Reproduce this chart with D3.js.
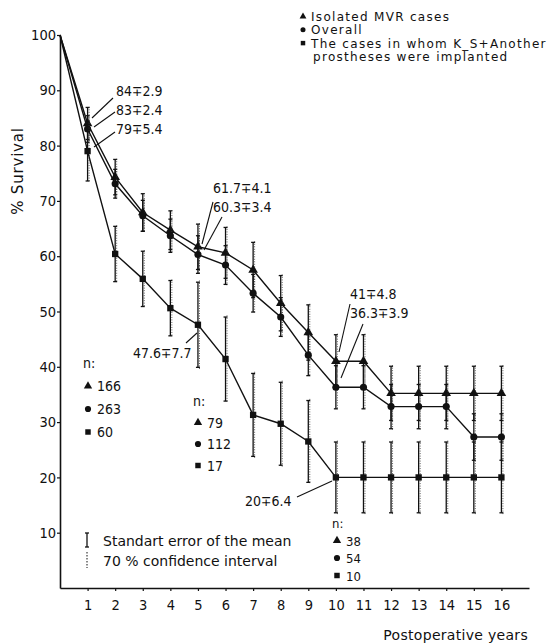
<!DOCTYPE html>
<html>
<head>
<meta charset="utf-8">
<script src="https://cdn.jsdelivr.net/npm/d3@7/dist/d3.min.js"></script>
<style>
  body { margin: 0; background: #fff; }
  svg text { font-family: "DejaVu Sans Condensed", "Liberation Sans Narrow", "Roboto Condensed", sans-serif; fill: #111; }
  svg text.wide { font-family: "DejaVu Sans", "Liberation Sans", sans-serif; }
</style>
</head>
<body>
<svg width="557" height="644"></svg>
<script>
// survival data
var years = [0, 1, 2, 3, 4, 5, 6, 7, 8, 9, 10, 11, 12, 13, 14, 15, 16];
var isolated = [100, 84, 74.3, 67.9, 64.7, 61.7, 60.6, 57.5, 51.5, 46.2, 41, 41, 35.2, 35.2, 35.2, 35.2, 35.2];
var overall = [100, 83, 73.1, 67.3, 63.7, 60.3, 58.4, 53.3, 49, 42.1, 36.3, 36.3, 32.8, 32.8, 32.8, 27.3, 27.3];
var ks = [100, 79, 60.4, 55.9, 50.6, 47.6, 41.4, 31.3, 29.7, 26.5, 20, 20, 20, 20, 20, 20, 20];
var isolatedSE = [0, 2.9, 3.2, 3.4, 3.5, 4.1, 4.6, 5.0, 5.0, 5.0, 4.8, 4.8, 4.9, 4.9, 4.9, 4.9, 4.9];
var overallSE = [0, 2.4, 2.6, 2.8, 3.0, 3.4, 3.5, 3.4, 3.5, 3.7, 3.9, 3.9, 4.0, 4.0, 4.0, 4.2, 4.2];
var ksSE = [0, 5.4, 5.0, 5.0, 5.0, 7.7, 7.6, 7.5, 7.5, 7.4, 6.4, 6.4, 6.4, 6.4, 6.4, 6.4, 6.4];
var xTicks = [1, 2, 3, 4, 5, 6, 7, 8, 9, 10, 11, 12, 13, 14, 15, 16];
var yTicks = [10, 20, 30, 40, 50, 60, 70, 80, 90, 100];
var legendNames = ["Isolated  MVR cases", "Overall", "The cases in whom K_S+Another", "prostheses  were  implanted"];

var svg = d3.select("svg");

var x = d3.scaleLinear().domain([0, 17]).range([60, 529]);
var y = d3.scaleLinear().domain([0, 100]).range([588, 35]);

// axes
var xAxis = svg.append("g")
  .attr("transform", "translate(0,588)")
  .call(d3.axisBottom(x).tickValues(xTicks).tickSize(3).tickSizeOuter(0).tickPadding(9));
var yAxis = svg.append("g")
  .attr("transform", "translate(60,0)")
  .call(d3.axisLeft(y).tickValues(yTicks).tickSize(3).tickSizeOuter(0).tickPadding(1));
[xAxis, yAxis].forEach(function(g) {
  g.select(".domain").attr("stroke", "#111").attr("stroke-width", 1.6);
  g.selectAll(".tick line").attr("stroke", "#111").attr("stroke-width", 1.2);
  g.selectAll(".tick text").style("font-size", "14.5px").attr("fill", "#111");
});

svg.append("text")
  .attr("class", "wide")
  .attr("transform", "translate(23,171) rotate(-90)")
  .attr("text-anchor", "middle")
  .style("font-size", "15px")
  .style("letter-spacing", "0.8px")
  .text("% Survival");

svg.append("text")
  .attr("class", "wide")
  .attr("x", 528).attr("y", 640)
  .attr("text-anchor", "end")
  .style("font-size", "14px")
  .style("letter-spacing", "0.3px")
  .text("Postoperative years");

var series = [
  {vals: isolated, se: isolatedSE, shape: d3.symbolTriangle, size: 40},
  {vals: overall, se: overallSE, shape: d3.symbolCircle, size: 40},
  {vals: ks, se: ksSE, shape: d3.symbolSquare, size: 40}
];

var line = d3.line()
  .x(function(d, i) { return x(years[i]); })
  .y(function(d) { return y(d); });

series.forEach(function(s) {
  // error bars (standard error, solid with caps)
  var bars = svg.append("g");
  years.forEach(function(yr, i) {
    if (!s.se[i]) return;
    var cx = x(yr), top = y(s.vals[i] + s.se[i]), bot = y(s.vals[i] - s.se[i]);
    bars.append("line").attr("x1", cx).attr("x2", cx).attr("y1", top).attr("y2", bot)
      .attr("stroke", "#111").attr("stroke-width", 1.3);
    [top, bot].forEach(function(yy) {
      bars.append("line").attr("x1", cx - 2).attr("x2", cx + 2).attr("y1", yy).attr("y2", yy)
        .attr("stroke", "#111").attr("stroke-width", 1.3);
    });
    // 70% confidence interval, dotted beside the bar
    bars.append("line").attr("x1", cx + 1.5).attr("x2", cx + 1.5)
      .attr("y1", y(s.vals[i] + s.se[i] * 1.04)).attr("y2", y(s.vals[i] - s.se[i] * 1.04))
      .attr("stroke", "#333").attr("stroke-width", 0.8).attr("stroke-dasharray", "1,1.5");
  });

  svg.append("path")
    .attr("d", line(s.vals))
    .attr("fill", "none")
    .attr("stroke", "#111")
    .attr("stroke-width", 1.4);

  svg.append("g").selectAll("path")
    .data(s.vals.slice(1))
    .enter().append("path")
    .attr("transform", function(d, i) { return "translate(" + x(years[i + 1]) + "," + y(d) + ")"; })
    .attr("d", d3.symbol().type(s.shape).size(s.size))
    .attr("fill", "#111");
});

// value annotations with leader lines
var notes = [
  {t: "84\u22132.9", tx: 116, ty: 96, l: [92, 118, 113, 98]},
  {t: "83\u22132.4", tx: 116, ty: 115, l: [94, 127, 115, 112]},
  {t: "79\u22135.4", tx: 116, ty: 134, l: [94, 147, 115, 132]},
  {t: "61.7\u22134.1", tx: 213, ty: 193, l: [202, 244, 213, 202]},
  {t: "60.3\u22133.4", tx: 213, ty: 212, l: [204, 250, 222, 217]},
  {t: "47.6\u22137.7", tx: 133, ty: 358, l: [186, 343, 197, 333]},
  {t: "41\u22134.8", tx: 350, ty: 299, l: [339, 352, 350, 304]},
  {t: "36.3\u22133.9", tx: 350, ty: 318, l: [341, 378, 363, 324]},
  {t: "20\u22136.4", tx: 245, ty: 506, l: [297, 497, 332, 481]}
];
notes.forEach(function(n) {
  svg.append("text").attr("x", n.tx).attr("y", n.ty).style("font-size", "14px").text(n.t);
  svg.append("line").attr("x1", n.l[0]).attr("y1", n.l[1]).attr("x2", n.l[2]).attr("y2", n.l[3])
    .attr("stroke", "#111").attr("stroke-width", 1.1);
});

// case counts
var nCounts = [[166, 263, 60], [79, 112, 17], [38, 54, 10]];
var nPos = [{x: 83, y: 368, step: 23, fs: 14}, {x: 193, y: 406, step: 21.5, fs: 14}, {x: 332, y: 528, step: 17.5, fs: 13}];
var shapes = [d3.symbolTriangle, d3.symbolCircle, d3.symbolSquare];
nCounts.forEach(function(c, k) {
  var p = nPos[k];
  svg.append("text").attr("x", p.x).attr("y", p.y).style("font-size", p.fs + "px").text("n:");
  c.forEach(function(v, j) {
    var yy = p.y + p.step * (j + 1);
    svg.append("path")
      .attr("transform", "translate(" + (p.x + 5) + "," + (yy - 5) + ")")
      .attr("d", d3.symbol().type(shapes[j]).size(30))
      .attr("fill", "#111");
    svg.append("text").attr("x", p.x + 14).attr("y", yy).style("font-size", p.fs + "px").text(v);
  });
});

// legend top right
legendNames.forEach(function(name, i) {
  var yy = 21 + i * 13.3;
  if (i < 3) {
    svg.append("path")
      .attr("transform", "translate(303," + (yy - 4.5) + ")")
      .attr("d", d3.symbol().type(shapes[i]).size(20))
      .attr("fill", "#111");
  }
  svg.append("text").attr("class", "wide")
    .attr("x", i < 3 ? 311 : 313).attr("y", yy)
    .style("font-size", "12px").style("letter-spacing", "1.3px")
    .text(name);
});

// error bar key
svg.append("line").attr("x1", 87).attr("x2", 87).attr("y1", 533).attr("y2", 547).attr("stroke", "#111").attr("stroke-width", 1.3);
svg.append("line").attr("x1", 85).attr("x2", 89).attr("y1", 533).attr("y2", 533).attr("stroke", "#111").attr("stroke-width", 1.3);
svg.append("line").attr("x1", 85).attr("x2", 89).attr("y1", 547).attr("y2", 547).attr("stroke", "#111").attr("stroke-width", 1.3);
svg.append("line").attr("x1", 87).attr("x2", 87).attr("y1", 552).attr("y2", 568).attr("stroke", "#111").attr("stroke-width", 1).attr("stroke-dasharray", "1.5,1.5");
svg.append("text").attr("class", "wide").attr("x", 103).attr("y", 546).style("font-size", "14px").text("Standart error of the mean");
svg.append("text").attr("class", "wide").attr("x", 103).attr("y", 566).style("font-size", "14px").text("70 % confidence  interval");
</script>
</body>
</html>
